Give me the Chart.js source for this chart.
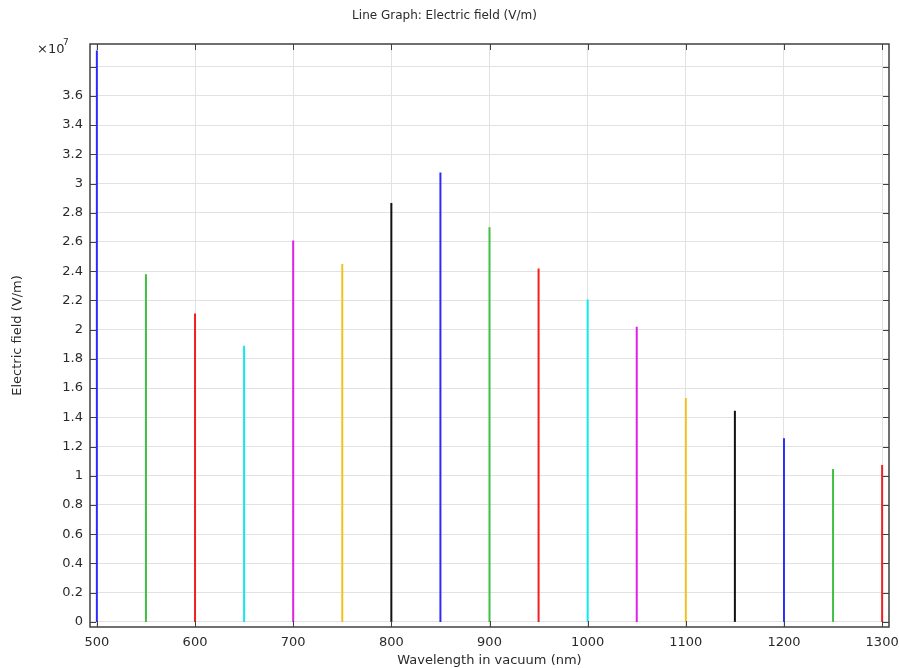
<!DOCTYPE html>
<html>
<head>
<meta charset="utf-8">
<title>Line Graph: Electric field (V/m)</title>
<script src="https://cdn.jsdelivr.net/npm/chart.js@4.4.1/dist/chart.umd.min.js"></script>
<style>
  html, body { margin: 0; padding: 0; background: #fff; }
  #wrap { width: 899px; height: 668px; }
</style>
</head>
<body>
<div id="wrap"><canvas id="grafico" width="899" height="668"></canvas></div>
<script>
// longitudes de onda (nm) y valor máximo de cada línea (x10^7 V/m)
const longitudes = [500, 550, 600, 650, 700, 750, 800, 850, 900, 950, 1000, 1050, 1100, 1150, 1200, 1250, 1300];
const picos = [3.91, 2.38, 2.11, 1.89, 2.61, 2.45, 2.866, 3.075, 2.70, 2.418, 2.207, 2.02, 1.532, 1.445, 1.257, 1.046, 1.074];
const colores = ["#2b2bff", "#3fbf3f", "#f02020", "#10e8f0", "#e020e8", "#f2c020", "#111111"];
const escala = 1e7;

// marcas de los ejes
const marcasX = [500, 600, 700, 800, 900, 1000, 1100, 1200, 1300];
const marcasY = [0, 0.2, 0.4, 0.6, 0.8, 1, 1.2, 1.4, 1.6, 1.8, 2, 2.2, 2.4, 2.6, 2.8, 3, 3.2, 3.4, 3.6, 3.8];
const etiquetasY = ["0", "0.2", "0.4", "0.6", "0.8", "1", "1.2", "1.4", "1.6", "1.8", "2", "2.2", "2.4", "2.6", "2.8", "3", "3.2", "3.4", "3.6", ""];

const fuente = "'DejaVu Sans', sans-serif";
const texto = "#2a2a2a";

// cada línea va desde 0 hasta su pico
const datasets = longitudes.map((l, i) => ({
  label: l + " nm",
  data: [{ x: l, y: 0 }, { x: l, y: picos[i] * escala }],
  borderColor: colores[i % colores.length],
  borderWidth: 2,
  pointRadius: 0,
  fill: false,
}));

// marco y marcas hacia dentro (como en COMSOL)
const marco = {
  id: "marco",
  afterDraw(chart) {
    const { ctx, chartArea: a, scales } = chart;
    ctx.save();
    ctx.strokeStyle = "#404040";
    ctx.lineWidth = 1;
    scales.x.ticks.forEach((t) => {
      const px = Math.round(scales.x.getPixelForValue(t.value)) + 0.5;
      ctx.beginPath();
      ctx.moveTo(px, a.bottom); ctx.lineTo(px, a.bottom - 6);
      ctx.moveTo(px, a.top); ctx.lineTo(px, a.top + 6);
      ctx.stroke();
    });
    scales.y.ticks.forEach((t) => {
      const py = Math.round(scales.y.getPixelForValue(t.value)) + 0.5;
      ctx.beginPath();
      ctx.moveTo(a.left, py); ctx.lineTo(a.left + 6, py);
      ctx.moveTo(a.right, py); ctx.lineTo(a.right - 6, py);
      ctx.stroke();
    });
    ctx.lineWidth = 1.5;
    ctx.strokeRect(a.left, a.top, a.right - a.left, a.bottom - a.top);

    // factor de escala
    ctx.fillStyle = texto;
    ctx.textBaseline = "alphabetic";
    ctx.font = "13px " + fuente;
    ctx.fillText("\u00d710", 37, 53);
    ctx.font = "9px " + fuente;
    ctx.fillText("7", 63, 45);
    ctx.restore();
  },
};

const ctx = document.getElementById("grafico").getContext("2d");
const chart = new Chart(ctx, {
  type: "line",
  data: { datasets: datasets },
  options: {
    responsive: false,
    animation: false,
    layout: { padding: { right: 10, left: 0, top: 0, bottom: 0 } },
    plugins: {
      legend: { display: false },
      tooltip: { enabled: false },
      title: {
        display: true,
        text: "Line Graph: Electric field (V/m)",
        color: texto,
        font: { family: fuente, size: 12, weight: "normal" },
        padding: { top: 9, bottom: 20.6 },
      },
    },
    scales: {
      x: {
        type: "linear",
        bounds: "data",
        min: 493,
        max: 1307,
        afterBuildTicks: (s) => { s.ticks = marcasX.map((v) => ({ value: v })); },
        afterFit: (s) => { s.height = 41; s.paddingLeft = 0; s.paddingRight = 0; },
        ticks: {
          maxRotation: 0,
          autoSkip: false,
          padding: 8,
          color: texto,
          font: { family: fuente, size: 13 },
          callback: (v) => String(v),
        },
        grid: { color: "#e2e2e2", drawTicks: false },
        border: { display: false },
        title: {
          display: true,
          text: "Wavelength in vacuum (nm)",
          color: texto,
          font: { family: fuente, size: 13 },
          padding: { top: 0, bottom: 0 },
        },
      },
      y: {
        type: "linear",
        bounds: "data",
        min: -0.035 * escala,
        max: 3.955 * escala,
        afterBuildTicks: (s) => { s.ticks = marcasY.map((v) => ({ value: v * escala })); },
        afterFit: (s) => { s.width = 90; s.paddingTop = 0; s.paddingBottom = 0; },
        ticks: {
          autoSkip: false,
          padding: 7,
          color: texto,
          font: { family: fuente, size: 13 },
          callback: (v, i) => etiquetasY[i],
        },
        grid: { color: "#e2e2e2", drawTicks: false },
        border: { display: false },
        title: {
          display: true,
          text: "Electric field (V/m)",
          color: texto,
          font: { family: fuente, size: 13 },
          padding: { top: 10, bottom: 0 },
        },
      },
    },
  },
  plugins: [marco],
});
</script>
</body>
</html>
